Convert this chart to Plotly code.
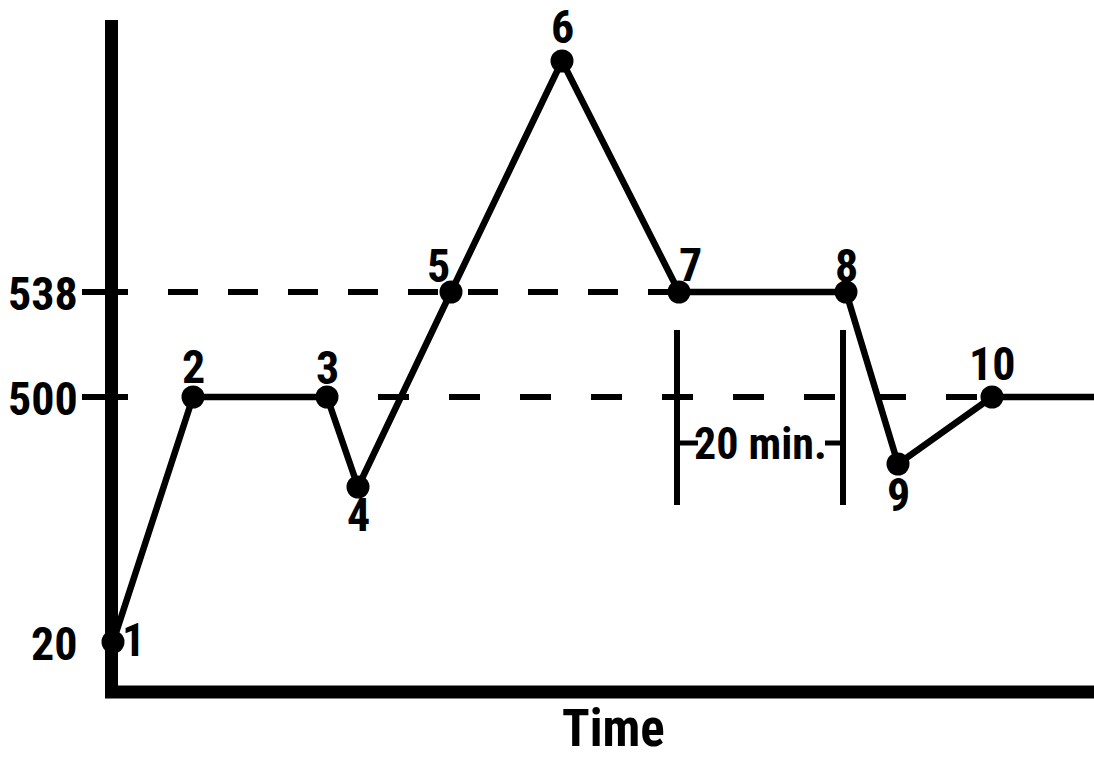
import plotly.graph_objects as go

# ---- data (display units: x = time, y = chart level) ----
time = [0.2, 8.2, 21.6, 24.7, 34.0, 45.1, 56.8, 73.5, 78.7, 88.1, 98.3]
level = [5.0, 29.5, 29.5, 20.5, 40.0, 63.1, 40.0, 40.0, 22.8, 29.5, 29.5]
point_labels = ["1", "2", "3", "4", "5", "6", "7", "8", "9", "10"]
tick_levels = [5.0, 29.5, 40.0]
tick_labels = ["20", "500", "538"]
interval_start, interval_end = 56.6, 73.2
interval_label = "20 min."
x_title = "Time"

FONT = "Roboto Condensed, DejaVu Sans Condensed, sans-serif"
BLACK = "#000000"

fig = go.Figure()

# main profile line with markers (last point has no marker)
fig.add_trace(go.Scatter(
    x=time, y=level, mode="lines",
    line=dict(color=BLACK, width=6.5), hoverinfo="skip", showlegend=False))
fig.add_trace(go.Scatter(
    x=time[:len(point_labels)], y=level[:len(point_labels)], mode="markers",
    marker=dict(color=BLACK, size=23), hoverinfo="skip", showlegend=False))

shapes = []
# axes lines
shapes.append(dict(type="line", x0=0.05, x1=0.05, y0=-0.6, y1=67.2,
                   line=dict(color=BLACK, width=13)))
shapes.append(dict(type="line", x0=-0.6, x1=98.3, y0=0, y1=0,
                   line=dict(color=BLACK, width=13)))
# tick marks crossing axis for 500 and 538
for lv in tick_levels[1:]:
    shapes.append(dict(type="line", x0=-2.9, x1=1.7, y0=lv, y1=lv,
                       line=dict(color=BLACK, width=6)))
# dashed reference lines
shapes.append(dict(type="line", x0=5.7, x1=56.8, y0=tick_levels[2], y1=tick_levels[2],
                   layer="below", line=dict(color=BLACK, width=6, dash="30px,30px")))
shapes.append(dict(type="line", x0=26.7, x1=98.3, y0=tick_levels[1], y1=tick_levels[1],
                   layer="below", line=dict(color=BLACK, width=6, dash="31px,40px")))
# 20-minute interval bars
for xv in (interval_start, interval_end):
    shapes.append(dict(type="line", x0=xv, x1=xv, y0=18.7, y1=36.2,
                       line=dict(color=BLACK, width=6)))
shapes.append(dict(type="line", x0=interval_start, x1=interval_start + 2.1, y0=24.9, y1=24.9,
                   line=dict(color=BLACK, width=5)))
shapes.append(dict(type="line", x0=interval_end - 1.8, x1=interval_end, y0=24.9, y1=24.9,
                   line=dict(color=BLACK, width=5)))

annotations = []
offsets = [(20, 2), (0, 30), (0, 29), (0, -28), (-13, 26), (0, 34),
           (11, 27), (0, 26), (0, -31), (0, 33)]
for i, lab in enumerate(point_labels):
    dx, dy = offsets[i]
    annotations.append(dict(x=time[i], y=level[i], text=lab, showarrow=False,
                            xshift=dx, yshift=dy, xanchor="center", yanchor="middle",
                            font=dict(family=FONT, size=46, color=BLACK, weight="bold")))
# y tick labels
for lv, lab in zip(tick_levels, tick_labels):
    annotations.append(dict(x=-3.1, y=lv, text=lab, showarrow=False,
                            xanchor="right", yanchor="middle", yshift=-2,
                            font=dict(family=FONT, size=46, color=BLACK, weight="bold")))
# interval label
annotations.append(dict(x=(interval_start + interval_end) / 2, y=24.9, text=interval_label,
                        showarrow=False, xanchor="center", yanchor="middle", yshift=-1,
                        font=dict(family=FONT, size=44, color=BLACK, weight="bold")))
# x title
annotations.append(dict(x=50.2, y=-3.6, text=x_title, showarrow=False,
                        xanchor="center", yanchor="middle",
                        font=dict(family=FONT, size=51, color=BLACK, weight="bold")))

fig.update_layout(
    width=1094, height=757,
    margin=dict(l=0, r=0, t=0, b=0),
    paper_bgcolor="white", plot_bgcolor="white",
    xaxis=dict(range=[-11.1, 98.3], visible=False, fixedrange=True),
    yaxis=dict(range=[-6.5, 69.2], visible=False, fixedrange=True),
    shapes=shapes, annotations=annotations, showlegend=False,
)

fig.write_html("out.html", config={"displayModeBar": False},
               post_script="document.body.style.margin='0px';document.body.style.overflow='hidden';")
